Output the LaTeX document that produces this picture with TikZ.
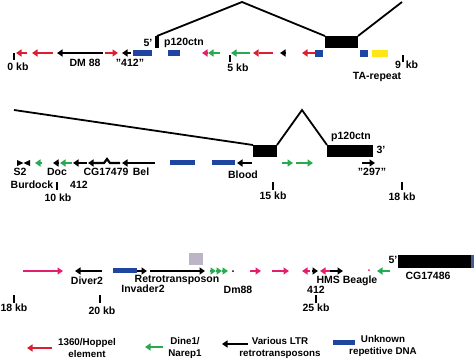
\documentclass[tikz,border=0pt]{standalone}
\usepackage{fontspec}
\setmainfont{Liberation Sans}
\usetikzlibrary{arrows.meta}
\definecolor{cred}{RGB}{220,30,50}
\definecolor{cmag}{RGB}{228,30,110}
\definecolor{cgreen}{RGB}{40,170,80}
\definecolor{cblue}{RGB}{30,70,160}
\definecolor{cyel}{RGB}{255,230,20}
\definecolor{cgray}{RGB}{190,180,200}
\tikzset{
  fe/.style={line width=2.2pt,-{Triangle[length=5.5pt,width=7pt]}},
  lbl/.style={font=\bfseries\fontsize{10.5}{11.5}\selectfont,inner sep=0pt},
  leg/.style={font=\bfseries\fontsize{9.8}{12}\selectfont,inner sep=0pt,align=center},
  tk/.style={line width=1.8pt},
  intron/.style={line width=1.8pt},
  rep/.style={fill=cblue},
}
\begin{document}
\begin{tikzpicture}[x=1pt,y=-1pt]
\useasboundingbox (0,0) rectangle (474,362);
% ---------------- Row 1 ----------------
\draw[intron] (157,36) -- (242,2) -- (325,36);
\draw[intron] (358,36) -- (402,2);
\fill (155,36) rectangle (159,48);
\fill (325,36) rectangle (358,48);
\node[lbl] (r1five) at (148,43) {5'};
\node[lbl] (r1p) at (184,43) {p120ctn};
\draw[fe,cred] (27,53) -- (16,53);
\draw[fe,cred] (53,53) -- (32,53);
\draw[fe,black] (103,53) -- (57,53);
\draw[fe,cred] (105,53) -- (118,53);
\draw[fe,black] (131,53) -- (122,53);
\fill[rep] (133,50) rectangle (152,56);
\fill[rep] (168,50) rectangle (180,56);
\draw[fe,cmag] (208,53) -- (202,53);
\draw[fe,cgreen] (220,53) -- (208,53);
\draw[fe,cgreen] (250,53) -- (231,53);
\draw[fe,cred,dash pattern=on 14pt off 3pt on 3pt off 1pt] (273,53) -- (253,53);
\draw[fe,black] (285,53) -- (280,53);
\draw[fe,cred] (315,53) -- (302,53);
\fill[rep] (315,50) rectangle (323,57);
\fill[rep] (360,50) rectangle (368,57);
\fill[cyel] (372,50) rectangle (388,57);
\draw[tk] (14,53) -- (14,60);
\node[lbl] (k0) at (18,67) {0 kb};
\node[lbl] (dm) at (85,63) {DM 88};
\node[lbl] (q412) at (130,63) {"412"};
\draw[tk] (230,55) -- (230,62);
\node[lbl] (k5) at (238,68) {5 kb};
\draw[tk] (403,55) -- (403,62);
\node[lbl] (k9a) at (398,65) {9};
\node[lbl] (k9b) at (412,65) {kb};
\node[lbl] (ta) at (377,77) {TA-repeat};
% ---------------- Row 2 ----------------
\draw[intron] (14,110) -- (253,145);
\fill (253,145) rectangle (277,157);
\draw[intron] (277,145) -- (302,110) -- (327,145);
\fill (327,145) rectangle (373,157);
\node[lbl] (r2three) at (381,150) {3'};
\node[lbl] (r2p) at (351,137) {p120ctn};
\fill (17,160) -- (23.5,163) -- (17,166) -- cycle;
\fill (30,160) -- (23.5,163) -- (30,166) -- cycle;
\draw[fe,cgreen] (42,163) -- (35,163);
\draw[fe,black] (58,163) -- (53,163);
\draw[fe,cgreen] (72,163) -- (60,163);
\draw[fe,black] (87,163) -- (73,163);
\draw[fe,black] (120,163) -- (110,163) -- (107,159) -- (104,163) -- (88,163);
\draw[fe,black] (155,163) -- (122,163);
\fill[rep] (170,160) rectangle (195,165);
\fill[rep] (212,160) rectangle (235,165);
\draw[fe,black] (252,163) -- (237,163);
\draw[fe,cgreen] (282,163) -- (293,163);
\draw[fe,cgreen] (296,163) -- (313,163);
\draw[fe,black] (362,163) -- (375,163);
\node[lbl] (s2) at (20,172) {S2};
\node[lbl] (doc) at (57,172) {Doc};
\node[lbl] (cg) at (106,172) {CG17479};
\node[lbl] (bel) at (141,172) {Bel};
\node[lbl] (bur) at (32,185) {Burdock};
\node[lbl] (f412) at (79,185) {412};
\node[lbl] (blood) at (243,175) {Blood};
\node[lbl] (q297) at (372,172) {"297"};
\draw[tk] (57,182) -- (57,190);
\node[lbl] (k10) at (58,198) {10 kb};
\draw[tk] (273,182) -- (273,190);
\node[lbl] (k15) at (273,196) {15 kb};
\draw[tk] (402,182) -- (402,190);
\node[lbl] (k18a) at (402,197) {18 kb};
% ---------------- Row 3 ----------------
\draw[fe,cmag] (23,271) -- (63,271);
\draw[fe,black] (102,271) -- (75,271);
\fill[rep] (113,268) rectangle (137,273);
\draw[fe,black] (137,271) -- (147,271);
\draw[fe,black] (150,271) -- (205,271);
\fill[cgray] (189,253) rectangle (203,265);
\draw[fe,cgreen] (210,271) -- (216,271);
\draw[fe,cgreen] (216,271) -- (222,271);
\draw[fe,cgreen] (222,271) -- (228,271);
\fill (233,271) circle (1pt);
\draw[fe,cmag] (250,271) -- (261,271);
\draw[fe,cmag] (272,271) -- (289,271);
\draw[fe,cmag] (310,271) -- (302,271);
\draw[fe,black] (312,271) -- (318,271);
\draw[fe,cmag] (330,271) -- (320,271);
\draw[fe,black] (330,271) -- (343,271);
\fill[cmag] (369,270) circle (1pt);
\draw[fe,cgreen] (390,271) -- (377,271);
\fill (398,255) rectangle (471,268);
\fill[cblue!60!gray] (471,255) rectangle (474,268);
\node[lbl] (r3five) at (393,260) {5'};
\node[lbl] (cg2) at (428,276) {CG17486};
\node[lbl] (div) at (87,281) {Diver2};
\node[lbl] (retro) at (177,280) {Retrotransposon};
\node[lbl] (inv) at (143,289) {Invader2};
\node[lbl] (dm88) at (238,290) {Dm88};
\node[lbl] (hms) at (347,281) {HMS Beagle};
\node[lbl] (t412) at (316,290) {412};
\draw[tk] (14,295) -- (14,303);
\node[lbl] (k18b) at (14,308) {18 kb};
\draw[tk] (100,295) -- (100,303);
\node[lbl] (k20) at (102,311) {20 kb};
\draw[tk] (316,295) -- (316,303);
\node[lbl] (k25) at (316,308) {25 kb};
% ---------------- Legend ----------------
\draw[fe,cred] (52,348) -- (27,348);
\node[leg] (l1) at (87,348) {1360/Hoppel\\element};
\draw[fe,cgreen] (163,347) -- (145,347);
\node[leg] (l2) at (185,348) {Dine1/\\Narep1};
\draw[fe,black] (248,344) -- (222,344);
\node[leg] (l3) at (280,348) {Various LTR\\retrotransposons};
\fill[rep] (333,340) rectangle (355,345);
\node[leg] (l4) at (383,346) {Unknown\\repetitive DNA};
\end{tikzpicture}
\end{document}
